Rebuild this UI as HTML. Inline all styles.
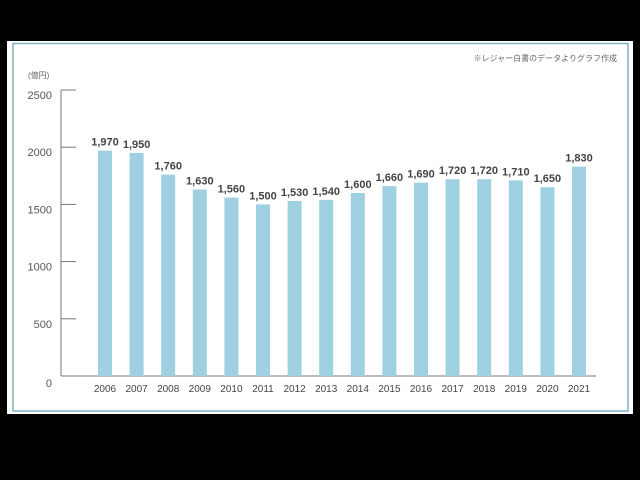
<!DOCTYPE html>
<html><head><meta charset="utf-8"><style>
body{margin:0;background:#000;width:640px;height:480px;overflow:hidden}
svg{display:block}
text{font-family:"Liberation Sans","Noto Sans CJK JP",sans-serif}
</style></head><body>
<svg width="640" height="480">
<rect x="7" y="41" width="626" height="373" fill="#fff"/>
<rect x="13" y="43.5" width="615" height="367.5" fill="none" stroke="#7fb3c4" stroke-width="1.5"/>
<text x="617" y="61" font-size="8" fill="#666" text-anchor="end">※レジャー白書のデータよりグラフ作成</text>
<text x="28" y="78" font-size="8" fill="#666">(億円)</text>
<g id="axes"></g>
<g id="bars"></g>
</svg>
<script>
const years=["2006","2007","2008","2009","2010","2011","2012","2013","2014","2015","2016","2017","2018","2019","2020","2021"];
const values=[1970,1950,1760,1630,1560,1500,1530,1540,1600,1660,1690,1720,1720,1710,1650,1830];
const valueLabels=["1,970","1,950","1,760","1,630","1,560","1,500","1,530","1,540","1,600","1,660","1,690","1,720","1,720","1,710","1,650","1,830"];
const ticks=[0,500,1000,1500,2000,2500];
const NS="http://www.w3.org/2000/svg";
const y=v=>376-v*(286/2500);
const x=i=>105+i*31.6;
function mk(t,a,p){const e=document.createElementNS(NS,t);for(const k in a)e.setAttribute(k,a[k]);p.appendChild(e);return e;}
const ax=document.getElementById('axes'),bg=document.getElementById('bars');
const al=mk('line',{x1:61,x2:61,y1:y(2500),y2:y(0),stroke:'#777','stroke-width':1},ax);


const bl=mk('line',{x1:61,x2:596,y1:y(0),y2:y(0),stroke:'#777','stroke-width':1},ax);


ticks.forEach(t=>{
 if(t>0){const l=mk('line',{x1:61,x2:76,y1:y(t),y2:y(t),stroke:'#777','stroke-width':1},ax);
 
 }
 const tx=mk('text',{x:52,y:y(t)+(t==0?7:5)+4,'font-size':11,fill:'#555','text-anchor':'end'},ax);
 tx.textContent=t;
 
 
});
years.forEach((yr,i)=>{
 const r=mk('rect',{x:x(i)-7,y:y(values[i]),width:14,height:y(0)-y(values[i]),fill:'#9fd0e2'},bg);
 
 
 const v=mk('text',{x:x(i),y:y(values[i])-5,'font-size':11,fill:'#444','text-anchor':'middle','font-weight':'bold'},bg);
 v.textContent=valueLabels[i];
 
 
 const l=mk('text',{x:x(i),y:392,'font-size':10,fill:'#444','text-anchor':'middle'},bg);
 l.textContent=yr;
 
 
});
</script>
</body></html>
